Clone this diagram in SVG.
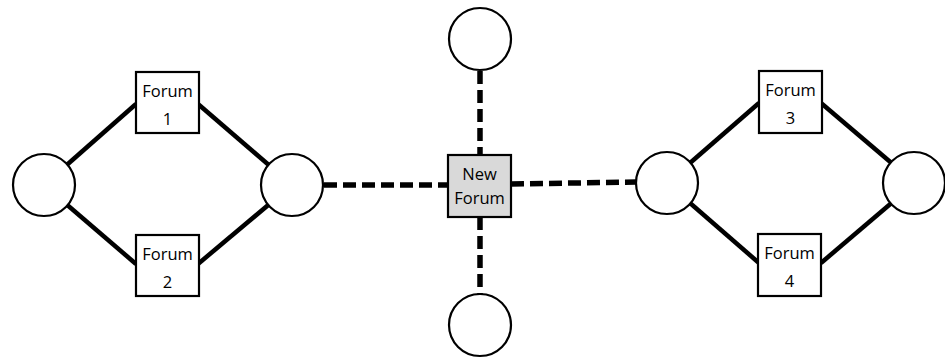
<svg xmlns="http://www.w3.org/2000/svg" width="945" height="362" viewBox="0 0 945 362">
  <style>
    .solid { stroke: #000; stroke-width: 4.5; fill: none; }
    .dash { stroke: #000; stroke-width: 5.5; fill: none; stroke-dasharray: 13 6; }
    .hub { fill: #fff; stroke: #000; stroke-width: 2.2; }
    .forum { fill: #fff; stroke: #000; stroke-width: 2.2; }
    .newforum { fill: #d9d9d9; stroke: #000; stroke-width: 2.2; }
    .label { font-family: "Open Sans", "Liberation Sans", sans-serif; font-size: 16.5px; fill: #000; text-anchor: middle; }
  </style>
  <rect width="945" height="362" fill="#fff"/>

  <g id="connectors">
    <!-- left ring -->
    <line class="solid" x1="44" y1="185" x2="136" y2="104"/>
    <line class="solid" x1="44" y1="185" x2="136" y2="264"/>
    <line class="solid" x1="198" y1="104" x2="292" y2="185"/>
    <line class="solid" x1="198" y1="264" x2="292" y2="185"/>
    <!-- right ring -->
    <line class="solid" x1="667" y1="183" x2="759" y2="103"/>
    <line class="solid" x1="667" y1="183" x2="759" y2="263"/>
    <line class="solid" x1="821" y1="103" x2="915" y2="183"/>
    <line class="solid" x1="821" y1="263" x2="915" y2="183"/>
    <!-- links to the new forum -->
    <line class="dash" x1="480" y1="71" x2="480" y2="154"/>
    <line class="dash" x1="480" y1="217" x2="480" y2="294"/>
    <line class="dash" x1="324" y1="185" x2="448" y2="185"/>
    <line class="dash" x1="511" y1="184" x2="636" y2="182"/>
  </g>

  <g id="hub-left-outer"><circle class="hub" cx="44" cy="185" r="31"/></g>
  <g id="hub-left-inner"><circle class="hub" cx="292" cy="185" r="31"/></g>
  <g id="hub-top"><circle class="hub" cx="480" cy="39" r="31"/></g>
  <g id="hub-bottom"><circle class="hub" cx="480" cy="325" r="31"/></g>
  <g id="hub-right-inner"><circle class="hub" cx="667" cy="183" r="31"/></g>
  <g id="hub-right-outer"><circle class="hub" cx="914" cy="183" r="31"/></g>

  <g id="forum-1">
    <rect class="forum" x="136" y="72" width="63" height="61"/>
    <text class="label" x="167.5" y="97">Forum</text>
    <text class="label" x="167.5" y="125">1</text>
  </g>
  <g id="forum-2">
    <rect class="forum" x="136" y="235" width="63" height="61"/>
    <text class="label" x="167.5" y="260">Forum</text>
    <text class="label" x="167.5" y="288">2</text>
  </g>
  <g id="forum-3">
    <rect class="forum" x="759" y="71" width="63" height="62"/>
    <text class="label" x="790.5" y="96">Forum</text>
    <text class="label" x="790.5" y="124">3</text>
  </g>
  <g id="forum-4">
    <rect class="forum" x="758" y="234" width="63" height="62"/>
    <text class="label" x="789.5" y="259">Forum</text>
    <text class="label" x="789.5" y="287">4</text>
  </g>
  <g id="new-forum">
    <rect class="newforum" x="448" y="155" width="63" height="62"/>
    <text class="label" x="479.5" y="180">New</text>
    <text class="label" x="479.5" y="204">Forum</text>
  </g>
</svg>
